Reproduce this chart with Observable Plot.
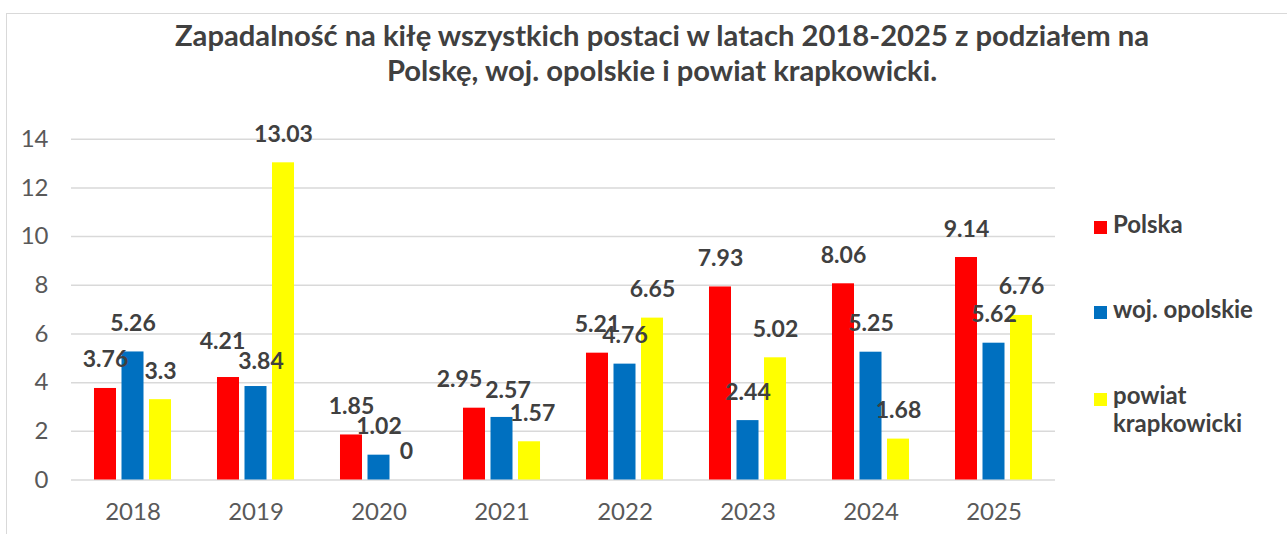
<!DOCTYPE html>
<html>
<head>
<meta charset="utf-8">
<script src="https://cdn.jsdelivr.net/npm/d3@7"></script>
<script src="https://cdn.jsdelivr.net/npm/@observablehq/plot@0.6"></script>
<style>
  html, body { margin: 0; padding: 0; background: #fff; }
  #wrap { position: relative; width: 1287px; height: 534px; overflow: hidden; font-family: Lato, "DejaVu Sans", sans-serif; }
  #frame { position: absolute; left: 6px; top: 13px; width: 1400px; height: 700px; border: 1.5px solid #d9d9d9; box-sizing: border-box; }
  #title { position: absolute; left: 62px; width: 1200px; top: 18.3px; text-align: center; font-weight: bold; font-size: 29.2px; line-height: 34.6px; color: #404040; }
  #chart { position: absolute; left: 0; top: 0; }
  .lg { position: absolute; left: 1113px; font-weight: bold; font-size: 24px; line-height: 28px; color: #404040; white-space: nowrap; }
  .sw { position: absolute; left: 1094px; width: 13px; height: 13px; }
</style>
</head>
<body>
<div id="wrap">
  <div id="frame"></div>
  <div id="chart"></div>
  <div id="title">Zapadalność na kiłę wszystkich postaci w latach 2018-2025 z podziałem na<br>Polskę, woj. opolskie i powiat krapkowicki.</div>
  <div id="legend"></div>
</div>
<script>
const years = ["2018", "2019", "2020", "2021", "2022", "2023", "2024", "2025"];
const seriesNames = ["Polska", "woj. opolskie", "powiat krapkowicki"];
const polska = [3.76, 4.21, 1.85, 2.95, 5.21, 7.93, 8.06, 9.14];
const opolskie = [5.26, 3.84, 1.02, 2.57, 4.76, 2.44, 5.25, 5.62];
const krapkowicki = [3.3, 13.03, 0, 1.57, 6.65, 5.02, 1.68, 6.76];
const yTicks = [0, 2, 4, 6, 8, 10, 12, 14];
const colors = ["#FF0000", "#0070C0", "#FFFF00"];
// small manual label nudges (pixels) as in the original chart
const labelNudge = {
  "2019|Polska": [-6, -8],
  "2019|woj. opolskie": [5, 3],
  "2021|Polska": [-15, 0],
  "2021|woj. opolskie": [6, 2],
  "2021|powiat krapkowicki": [3, 0]
};

const seriesValues = [polska, opolskie, krapkowicki];
const data = [];
years.forEach((yr, i) => {
  seriesNames.forEach((s, j) => {
    data.push({year: yr, series: s, value: seriesValues[j][i]});
  });
});
const nudge = d => labelNudge[d.year + "|" + d.series] || [0, 0];

const chart = Plot.plot({
  width: 1287,
  height: 534,
  marginTop: 138.7,
  marginBottom: 54.5,
  marginLeft: 71,
  marginRight: 232,
  style: {fontFamily: "Lato, sans-serif", background: "transparent"},
  fx: {domain: years, padding: 0, label: null},
  x: {domain: seriesNames, paddingInner: 0.2, paddingOuter: 0.836, axis: null, round: false},
  y: {domain: [0, 14], label: null},
  color: {domain: seriesNames, range: colors},
  marks: [
    Plot.gridY(yTicks, {stroke: "#d9d9d9", strokeOpacity: 1, strokeWidth: 1.5}),
    Plot.axisY(yTicks, {tickSize: 0, tickPadding: 23, fontSize: 24, color: "#595959", label: null}),
    Plot.axisFx({anchor: "bottom", tickSize: 0, tickPadding: 22.5, fontSize: 24, color: "#595959", label: null}),
    Plot.barY(data, {fx: "year", x: "series", y: "value", fill: "series"}),
    Plot.text(data, {
      fx: "year", x: "series", y: "value", text: d => String(d.value),
      lineAnchor: "bottom", dy: -21, fontSize: 23, fontWeight: "bold", fill: "#404040",
      render: (index, scales, values, dims, ctx, next) => {
        const g = next(index, scales, values, dims, ctx);
        d3.select(g).selectAll("text").each(function(i) {
          const [dx, dy] = nudge(data[i]);
          if (dx || dy) {
            const prev = this.getAttribute("transform") || "";
            this.setAttribute("transform", `translate(${dx},${dy}) ${prev}`);
          }
        });
        return g;
      }
    })
  ]
});
document.getElementById("chart").appendChild(chart);

const legend = document.getElementById("legend");
const legendTops = [209.7, 294.7, 380.7];
const swatchTops = [221, 306, 393];
const legendLabels = ["Polska", "woj. opolskie", "powiat<br>krapkowicki"];
seriesNames.forEach((s, j) => {
  const sw = document.createElement("div");
  sw.className = "sw";
  sw.style.top = swatchTops[j] + "px";
  sw.style.background = colors[j];
  legend.appendChild(sw);
  const t = document.createElement("div");
  t.className = "lg";
  t.style.top = legendTops[j] + "px";
  t.innerHTML = legendLabels[j];
  legend.appendChild(t);
});
</script>
</body>
</html>
